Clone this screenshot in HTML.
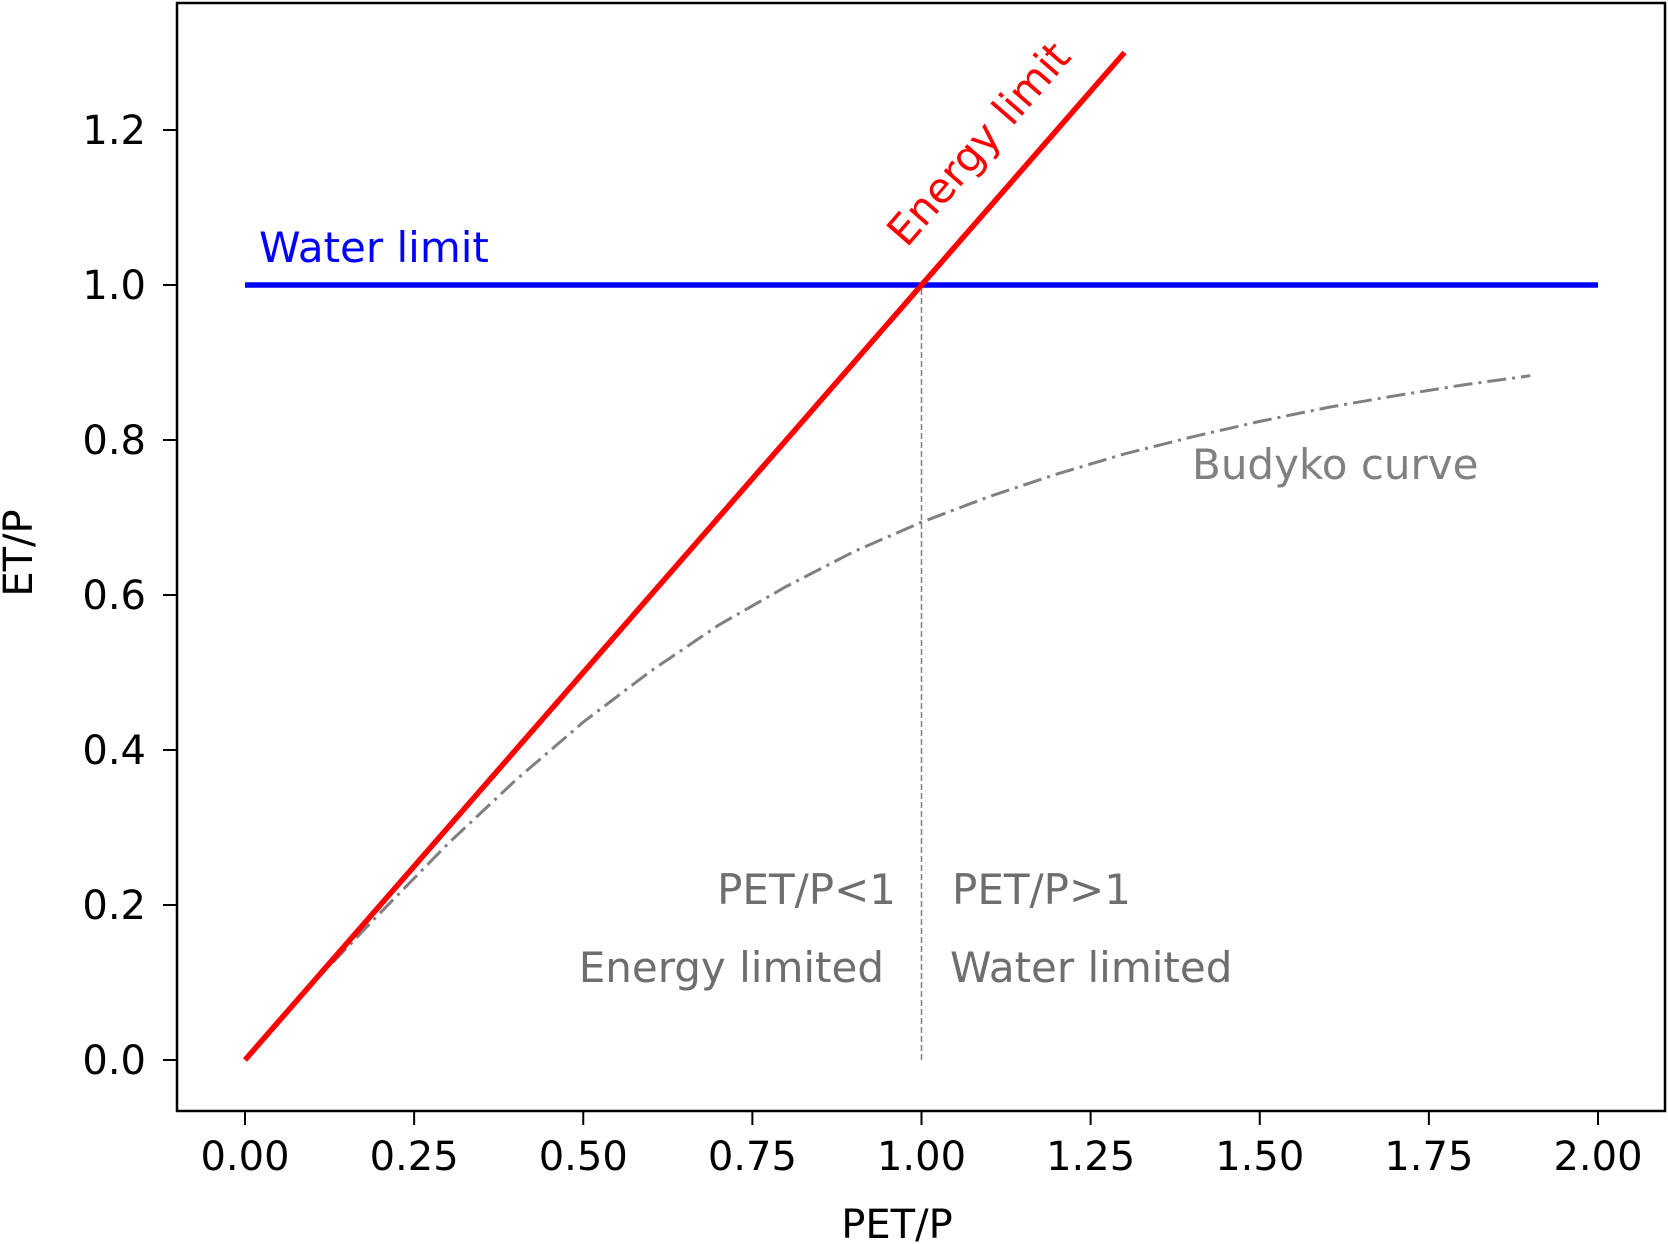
<!DOCTYPE html>
<html><head><meta charset="utf-8"><style>html,body{margin:0;padding:0;background:#fff}svg{display:block}text{font-family:"DejaVu Sans","Liberation Sans",sans-serif}</style></head>
<body>
<svg id="chart" width="1668" height="1244" viewBox="0 0 1668 1244" xmlns="http://www.w3.org/2000/svg">
<g id="plot"></g>
</svg>
<script>
const xTicks = [0, 0.25, 0.5, 0.75, 1.0, 1.25, 1.5, 1.75, 2.0];
const xTickLabels = ["0.00","0.25","0.50","0.75","1.00","1.25","1.50","1.75","2.00"];
const yTicks = [0, 0.2, 0.4, 0.6, 0.8, 1.0, 1.2];
const yTickLabels = ["0.0","0.2","0.4","0.6","0.8","1.0","1.2"];
const energyX = [0, 1.3];
const energyY = [0, 1.3];
const waterX = [0, 2.0];
const waterY = [1, 1];
const budykoX = [0.13,0.2,0.3,0.4,0.5,0.6,0.7,0.8,0.9,1.0,1.1,1.2,1.3,1.4,1.5,1.6,1.7,1.8,1.9];
const budykoY = [0.126,0.190,0.279,0.361,0.436,0.502,0.561,0.611,0.656,0.694,0.727,0.756,0.782,0.804,0.824,0.842,0.857,0.871,0.883];

const NS = "http://www.w3.org/2000/svg";
const L = 177, R = 1665, T = 3, B = 1111;
const X0 = 245, X2 = 1598, Y0 = 1060, Y1 = 285;
const sx = v => X0 + (X2 - X0) * v / 2;
const sy = v => Y0 - (Y0 - Y1) * v;
const g = document.getElementById('plot');
function mk(tag, attrs, parent) {
  const e = document.createElementNS(NS, tag);
  for (const k in attrs) e.setAttribute(k, attrs[k]);
  (parent || g).appendChild(e);
  return e;
}
function pts(xs, ys) { return xs.map((x, i) => sx(x).toFixed(1) + ',' + sy(ys[i]).toFixed(1)).join(' '); }

const frame = mk('rect', {x: L, y: T, width: R - L, height: B - T, fill: 'none', stroke: '#000', 'stroke-width': 2.5});



xTicks.forEach((v, i) => {
  const t = mk('line', {x1: sx(v), x2: sx(v), y1: B, y2: B + 14, stroke: '#000', 'stroke-width': 2});
  
  
  const lb = mk('text', {x: sx(v), y: 1170, 'font-size': 40, 'text-anchor': 'middle', fill: '#000'});
  lb.textContent = xTickLabels[i];
  
  
});
yTicks.forEach((v, i) => {
  const t = mk('line', {x1: L - 14, x2: L, y1: sy(v), y2: sy(v), stroke: '#000', 'stroke-width': 2});
  
  
  const lb = mk('text', {x: 146, y: sy(v) + 14, 'font-size': 40, 'text-anchor': 'end', fill: '#000'});
  lb.textContent = yTickLabels[i];
  
  
});

const vd = mk('line', {x1: sx(1), x2: sx(1), y1: sy(0), y2: sy(1), stroke: '#808080', 'stroke-width': 1.5, 'stroke-dasharray': '6,3'});



const bc = mk('polyline', {points: pts(budykoX, budykoY), fill: 'none', stroke: '#808080', 'stroke-width': 3, 'stroke-dasharray': '19,6,3,6'});



const wl = mk('polyline', {points: pts(waterX, waterY), fill: 'none', stroke: '#0000ff', 'stroke-width': 5.5});



const el = mk('polyline', {points: pts(energyX, energyY), fill: 'none', stroke: '#ff0000', 'stroke-width': 5.5});



function label(txt, x, y, attrs, name) {
  const t = mk('text', Object.assign({x: x, y: y, 'font-size': 42}, attrs));
  t.textContent = txt;
  
  
  return t;
}
label('Water limit', 259, 262, {fill: '#0000ff'}, 'water-limit-label');
label('Energy limit', 979, 158, {fill: '#ff0000', 'text-anchor': 'middle', transform: 'rotate(-49 979 144)'}, 'energy-limit-label');
label('Budyko curve', 1192, 479, {fill: '#808080'}, 'budyko-curve-label');
label('PET/P<1', 896, 904, {fill: '#6e6e6e', 'text-anchor': 'end'}, 'pet-lt-1-label');
label('PET/P>1', 952, 904, {fill: '#6e6e6e'}, 'pet-gt-1-label');
label('Energy limited', 884, 982, {fill: '#6e6e6e', 'text-anchor': 'end'}, 'energy-limited-label');
label('Water limited', 950, 982, {fill: '#6e6e6e'}, 'water-limited-label');
label('PET/P', 897, 1238, {fill: '#000', 'text-anchor': 'middle', 'font-size': 40}, 'x-axis-title');
label('ET/P', 32, 553, {fill: '#000', 'text-anchor': 'middle', 'font-size': 40, transform: 'rotate(-90 32 553)'}, 'y-axis-title');
</script>
</body></html>
